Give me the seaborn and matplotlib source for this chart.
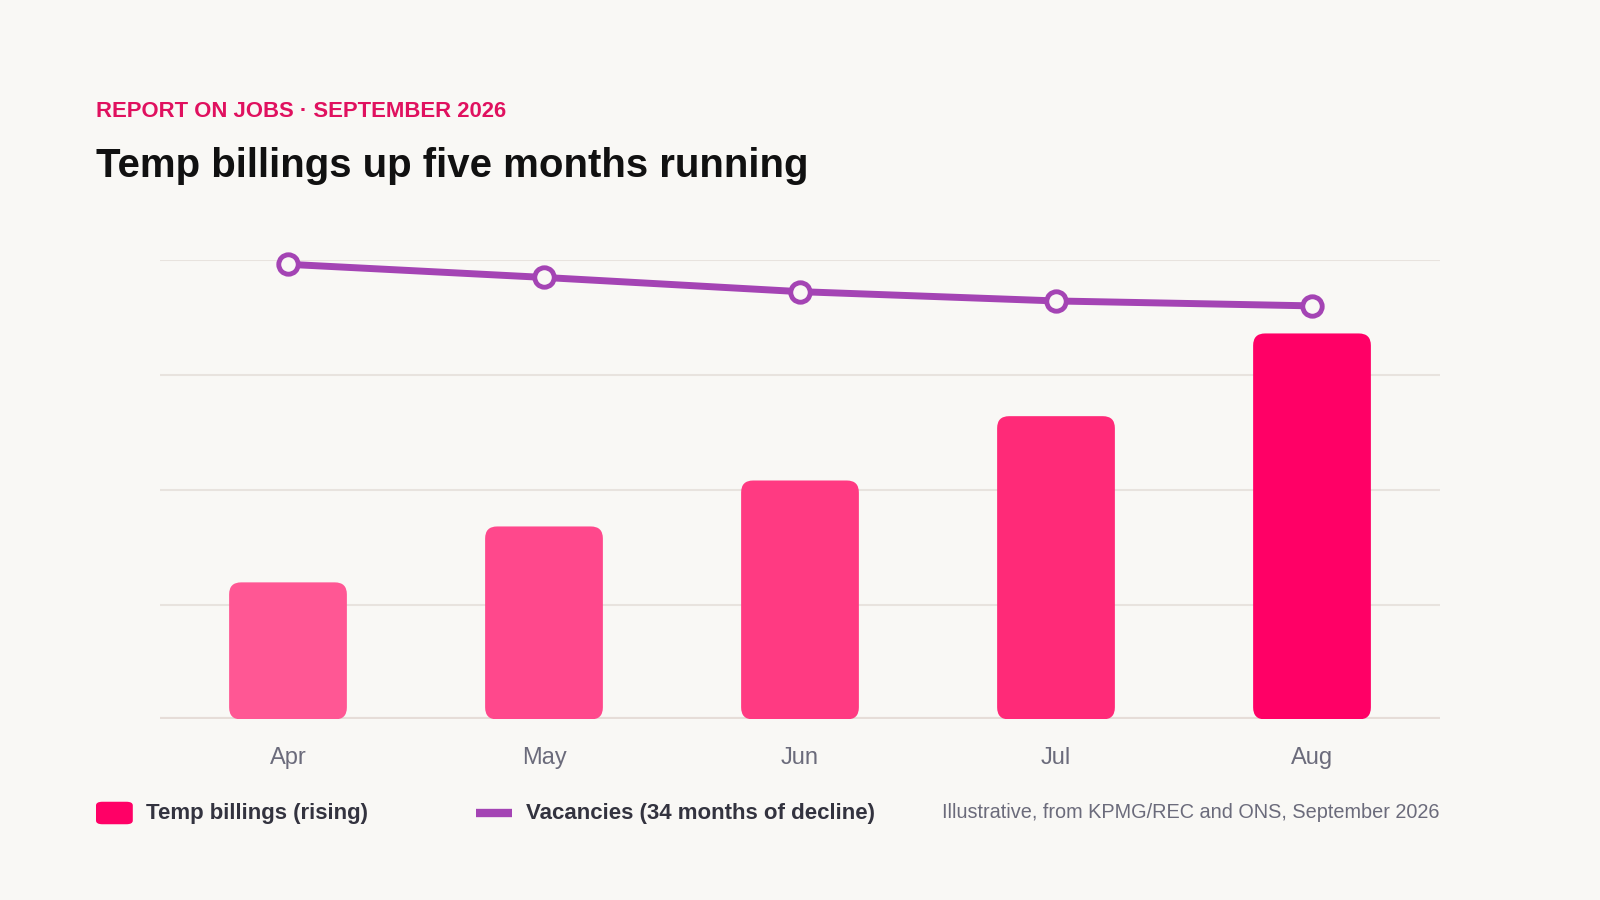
import numpy as np
import matplotlib.pyplot as plt
import seaborn as sns
from matplotlib.patches import FancyBboxPatch
from matplotlib.lines import Line2D

# Data
months = ["Apr", "May", "Jun", "Jul", "Aug"]
temp_billings = [17.9, 25.2, 31.2, 39.6, 50.4]      # left scale, 0-60
vacancies = [832, 808, 782, 765, 756]               # right scale, 0-840
bar_colors = ["#FF5794", "#FF488C", "#FF3A82", "#FF2A78", "#FF0066"]

BG = "#F9F8F5"
PINK = "#E0115F"
PURPLE = "#A444B4"
GRID = "#E8E3DE"
TICK = "#6B6B7B"
DARK = "#33333F"

sns.set_theme(style="white")
plt.rcParams["font.family"] = ["Liberation Sans", "DejaVu Sans"]

fig = plt.figure(figsize=(16, 9), dpi=100, facecolor=BG)
ax = fig.add_axes([0.1, 0.2006, 0.8, 0.5106])
ax.set_facecolor(BG)

sns.barplot(x=months, y=temp_billings, hue=months, palette=bar_colors,
            legend=False, width=0.46, saturation=1, ax=ax)
ax.set_xlim(-0.5, len(months) - 0.5)
ax.set_ylim(0, 60)
ax.set_yticks([0, 15, 30, 45, 60])
ax.yaxis.grid(True, color=GRID, lw=1.5)
ax.set_axisbelow(True)
ax.axhline(0, color="#E6DDD8", lw=3, zorder=1)
for s in ax.spines.values():
    s.set_visible(False)
ax.set_yticklabels([])
ax.tick_params(axis="y", length=0)
ax.tick_params(axis="x", length=0, pad=20, labelsize=17, labelcolor=TICK)
ax.set_xlabel("")
ax.set_ylabel("")

# swap bars for rounded versions
fig.canvas.draw()
radius_px = 12
x_per_px = 1 / abs(ax.transData.transform((1, 0))[0] - ax.transData.transform((0, 0))[0])
y_per_px = 1 / abs(ax.transData.transform((0, 1))[1] - ax.transData.transform((0, 0))[1])
for p in list(ax.patches):
    x, y, w, h = p.get_x(), p.get_y(), p.get_width(), p.get_height()
    fc = p.get_facecolor()
    p.remove()
    ax.add_patch(FancyBboxPatch((x, y), w, h,
                                boxstyle=f"round,pad=0,rounding_size={radius_px * x_per_px}",
                                mutation_aspect=y_per_px / x_per_px,
                                facecolor=fc, edgecolor="none", zorder=2))

# vacancies line on a twin axis
ax2 = ax.twinx()
sns.lineplot(x=np.arange(len(months)), y=vacancies, color=PURPLE, lw=5,
             marker="o", markersize=14, markerfacecolor=BG,
             markeredgecolor=PURPLE, markeredgewidth=3.5, ax=ax2)
for l in ax2.lines:
    l.set_clip_on(False)
ax2.set_ylim(0, 840)
ax2.set_xlim(-0.5, len(months) - 0.5)
ax2.axis("off")

# headings
fig.text(0.06, 0.870, "REPORT ON JOBS · SEPTEMBER 2026", color=PINK,
         fontsize=15.9, fontweight="bold", va="baseline")
fig.text(0.06, 0.8028, "Temp billings up five months running", color="#111111",
         fontsize=28.9, fontweight="bold", va="baseline")

# legend drawn by hand
leg_y = 1 - 813 / 900
fig.patches.append(FancyBboxPatch((0.06, leg_y - 0.0125), 0.023, 0.025,
                                  boxstyle="round,pad=0,rounding_size=0.004",
                                  transform=fig.transFigure, facecolor="#FF0066",
                                  edgecolor="none"))
fig.text(0.0915, leg_y, "Temp billings (rising)", color=DARK, fontsize=16,
         fontweight="bold", va="center")
fig.lines.append(Line2D([0.2975, 0.32], [leg_y, leg_y], color=PURPLE, lw=6,
                        solid_capstyle="butt", transform=fig.transFigure))
fig.text(0.329, leg_y, "Vacancies (34 months of decline)", color=DARK, fontsize=16,
         fontweight="bold", va="center")
fig.text(0.9, leg_y, "Illustrative, from KPMG/REC and ONS, September 2026",
         color=TICK, fontsize=14.35, ha="right", va="center")

fig.savefig("out.png", dpi=100, facecolor=BG)
